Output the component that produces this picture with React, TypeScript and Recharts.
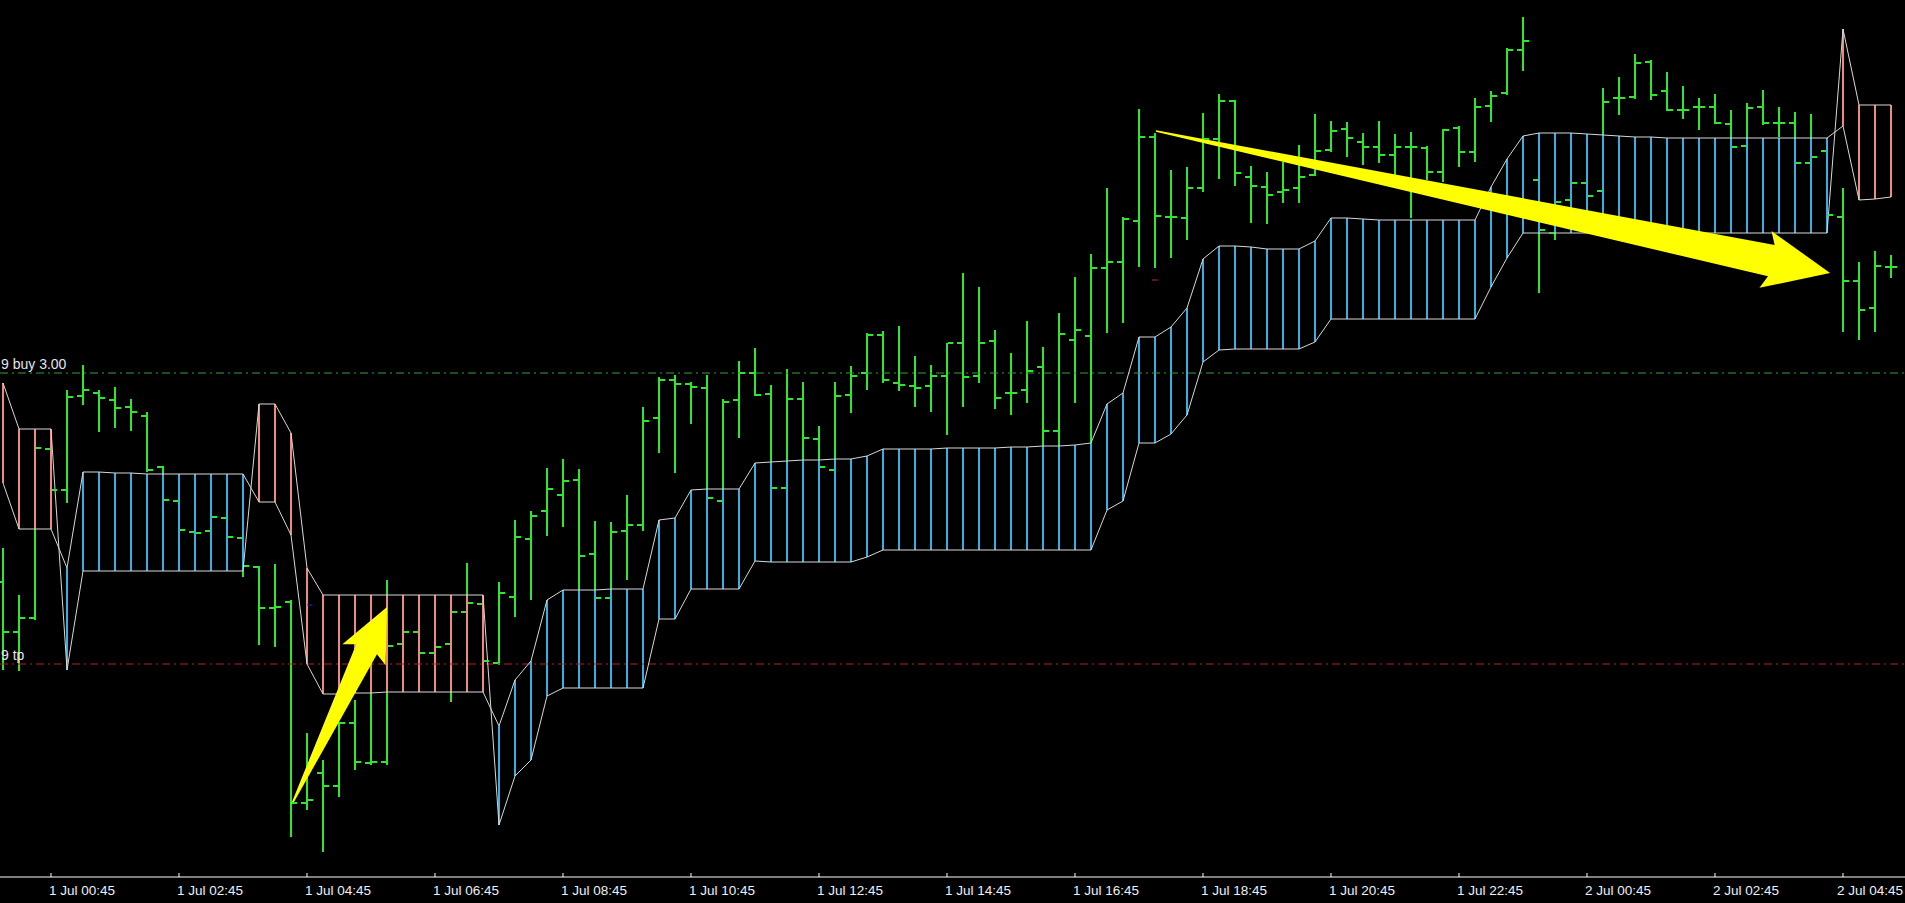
import React from "react";
import {
  ComposedChart,
  Bar,
  Line,
  Scatter,
  XAxis,
  YAxis,
  ReferenceLine,
} from "recharts";

const W = 1905;
const H = 903;

const GREEN = "#2fe62f";
const BLUE = "#3aaee0";
const SALMON = "#ec8a7e";
const SPAN = "#d8d8d8";

// 15 minute bars, 1 Jul 00:00 .. 2 Jul 05:30
const tickBars = [3, 11, 19, 27, 35, 43, 51, 59, 67, 75, 83, 91, 99, 107, 115];
const tickLabels = [
  "1 Jul 00:45", "1 Jul 02:45", "1 Jul 04:45", "1 Jul 06:45", "1 Jul 08:45",
  "1 Jul 10:45", "1 Jul 12:45", "1 Jul 14:45", "1 Jul 16:45", "1 Jul 18:45",
  "1 Jul 20:45", "1 Jul 22:45", "2 Jul 00:45", "2 Jul 02:45", "2 Jul 04:45",
];

const opens = [
  418, 368, 382, 551, 510, 604, 607, 600, 593, 584,
  533, 499, 468, 469, 482, 462, 433, 392, 398, 197,
  227, 214, 277, 237, 238, 356, 368, 347, 356, 388,
  396, 337, 403, 461, 489, 505, 520, 446, 402, 469,
  475, 582, 620, 616, 612, 499, 600, 627, 606, 512,
  601, 561, 530, 605, 627, 665, 617, 614, 614, 624,
  657, 624, 659, 607, 610, 633, 569, 660, 664, 732,
  738, 779, 863, 783, 782, 812, 861, 899, 823, 813,
  808, 812, 825, 850, 871, 858, 853, 845, 853, 852,
  828, 872, 848, 894, 907, 950, 820, 767, 800, 817,
  809, 902, 903, 938, 909, 890, 893, 893, 876, 854,
  893, 877, 877, 837, 849, 783, 719, 692, 733,
];
const highs = [
  452, 405, 554, 554, 610, 635, 610, 613, 601, 588,
  534, 501, 472, 486, 485, 465, 434, 436, 400, 267,
  240, 278, 300, 307, 420, 372, 375, 360, 392, 437,
  400, 418, 480, 489, 532, 541, 531, 479, 478, 505,
  593, 623, 625, 618, 625, 601, 639, 652, 615, 631,
  618, 574, 618, 634, 667, 669, 674, 644, 635, 657,
  727, 713, 670, 647, 679, 653, 687, 723, 746, 812,
  783, 891, 867, 830, 833, 887, 906, 900, 834, 828,
  838, 855, 886, 879, 878, 867, 879, 866, 868, 854,
  871, 874, 902, 909, 952, 983, 830, 803, 825, 830,
  912, 923, 946, 940, 928, 914, 902, 906, 890, 897,
  910, 893, 888, 886, 855, 812, 738, 749, 745,
];
const lows = [
  330, 329, 380, 508, 497, 595, 568, 572, 569, 528,
  497, 467, 460, 465, 460, 423, 355, 353, 163, 190,
  148, 203, 230, 235, 235, 350, 342, 340, 298, 380,
  336, 335, 383, 400, 464, 473, 408, 398, 398, 420,
  469, 547, 527, 576, 500, 497, 562, 604, 510, 510,
  538, 530, 528, 587, 610, 617, 609, 593, 588, 565,
  593, 617, 591, 585, 597, 553, 553, 597, 557, 667,
  677, 733, 732, 742, 760, 808, 821, 814, 777, 776,
  797, 797, 824, 848, 843, 835, 837, 825, 782, 820,
  818, 833, 838, 878, 905, 929, 707, 760, 785, 800,
  805, 885, 901, 900, 889, 881, 870, 876, 850, 850,
  875, 863, 835, 835, 782, 668, 660, 668, 722,
];
const closes = [
  368, 382, 552, 510, 603, 610, 602, 592, 588, 530,
  500, 470, 467, 483, 463, 434, 392, 393, 197, 200,
  214, 277, 238, 238, 354, 368, 347, 353, 388, 397,
  339, 407, 463, 484, 511, 519, 444, 402, 468, 475,
  579, 620, 616, 613, 502, 598, 627, 605, 512, 601,
  562, 533, 604, 624, 665, 620, 615, 612, 624, 657,
  623, 657, 602, 607, 629, 569, 666, 670, 732, 738,
  781, 863, 784, 783, 812, 861, 899, 827, 814, 805,
  810, 823, 849, 869, 862, 853, 845, 853, 853, 828,
  870, 848, 893, 904, 950, 959, 770, 798, 817, 804,
  898, 902, 937, 905, 890, 890, 893, 877, 853, 892,
  877, 877, 837, 843, 785, 719, 690, 734, 733,
];

// cloud: blue where spanA is above spanB, salmon otherwise
const spanA = [
  517, 471, 471, 471, 432, 528, 528, 527, 527, 526,
  526, 526, 526, 526, 526, 526, 498, 498, 465, 336,
  306, 306, 307, 307, 308, 308, 308, 308, 308, 308,
  308, 274, 320, 339, 400, 410, 410, 410, 411, 411,
  411, 480, 482, 510, 511, 511, 511, 537, 538, 539,
  540, 540, 541, 541, 544, 551, 551, 551, 551, 552,
  552, 552, 552, 553, 553, 554, 554, 555, 557, 596,
  607, 663, 663, 673, 692, 741, 754, 754, 753, 751,
  751, 751, 759, 782, 782, 781, 780, 780, 780, 780,
  780, 780, 780, 813, 841, 864, 867, 867, 867, 866,
  865, 864, 863, 863, 862, 862, 862, 862, 862, 862,
  862, 862, 862, 862, 862, 874, 800, 801, 803,
];
const spanB = [
  617, 571, 571, 571, 330, 429, 429, 429, 429, 429,
  429, 429, 429, 429, 429, 429, 596, 596, 567, 432,
  405, 405, 405, 405, 405, 405, 405, 405, 405, 405,
  405, 175, 224, 240, 304, 312, 312, 312, 312, 312,
  312, 381, 381, 411, 411, 411, 411, 439, 438, 438,
  438, 438, 438, 438, 443, 450, 450, 450, 450, 450,
  450, 450, 450, 450, 450, 450, 450, 450, 450, 490,
  499, 557, 557, 566, 585, 638, 650, 651, 651, 651,
  651, 651, 658, 681, 681, 681, 681, 681, 681, 681,
  681, 681, 681, 713, 742, 767, 767, 767, 767, 767,
  767, 767, 767, 767, 767, 767, 767, 767, 767, 767,
  767, 767, 767, 767, 767, 971, 895, 895, 895,
];

const buyPrice = 627;
const tpPrice = 336;

const arrows = [
  { from: { x: 18.06, y: 196 }, to: { x: 24.0, y: 393 }, head: 53, half: 24, neck: 47, neckHalf: 11.5 },
  { from: { x: 72.06, y: 869 }, to: { x: 114.19, y: 727 }, head: 66, half: 29, neck: 60, neckHalf: 16 },
];

const data = opens.map((o, i) => ({
  i,
  open: o,
  close: closes[i],
  range: [lows[i], highs[i]],
  spanA: spanA[i],
  spanB: spanB[i],
  cloud: [Math.min(spanA[i], spanB[i]), Math.max(spanA[i], spanB[i])],
}));

const X_DOMAIN: [number, number] = [-0.1875, 118.875];

const RangeShape = (p: any) => {
  const cx = Math.round(p.x + p.width / 2);
  const top = Math.min(p.y, p.y + p.height);
  const h = Math.max(Math.abs(p.height), 1);
  return <rect x={cx - 1} y={top} width={2} height={h} fill={GREEN} />;
};

const CloudShape = (p: any) => {
  const cx = Math.round(p.x + p.width / 2);
  const top = Math.min(p.y, p.y + p.height);
  const h = Math.max(Math.abs(p.height), 1);
  const up = p.payload.spanA >= p.payload.spanB;
  return <rect x={cx - 1} y={top} width={2} height={h} fill={up ? BLUE : SALMON} />;
};

const OpenTick = (p: any) => (
  <rect x={Math.round(p.cx) - 6} y={Math.round(p.cy) - 1} width={5} height={2} fill={GREEN} />
);
const CloseTick = (p: any) => (
  <rect x={Math.round(p.cx) + 1} y={Math.round(p.cy) - 1} width={5} height={2} fill={GREEN} />
);

const TimeTick = (p: any) => {
  const idx = tickBars.indexOf(p.payload.value);
  // the last label would run past the right edge, so it is right-aligned there
  const last = p.x + 80 > W;
  return (
    <g>
      <line x1={p.x} x2={p.x} y1={p.y - 4} y2={p.y} stroke="#ffffff" />
      <text
        x={last ? W - 2 : p.x - 2}
        y={p.y + 18}
        textAnchor={last ? "end" : "start"}
        fill="#f0f0f0"
        fontSize={13.5}
        fontFamily="Liberation Sans, Arial, sans-serif"
      >
        {tickLabels[idx]}
      </text>
    </g>
  );
};

function arrowShape(a: (typeof arrows)[number]) {
  return (p: any) => {
    const { x1, y1, x2, y2 } = p;
    const dx = x2 - x1;
    const dy = y2 - y1;
    const len = Math.hypot(dx, dy) || 1;
    const ux = dx / len;
    const uy = dy / len;
    const nx = -uy;
    const ny = ux;
    const pt = (back: number, side: number) =>
      `${x2 - ux * back + nx * side},${y2 - uy * back + ny * side}`;
    const pts = [
      `${x1 + nx * 0.8},${y1 + ny * 0.8}`,
      pt(a.neck, a.neckHalf),
      pt(a.head, a.half),
      `${x2},${y2}`,
      pt(a.head, -a.half),
      pt(a.neck, -a.neckHalf),
      `${x1 - nx * 0.8},${y1 - ny * 0.8}`,
    ].join(" ");
    return <polygon points={pts} fill="#ffff00" />;
  };
}

const lineLabel = (text: string) => (p: any) => (
  <text
    x={1}
    y={p.viewBox.y - 4}
    fill="#e6e6e6"
    fontSize={14}
    fontFamily="Liberation Sans, Arial, sans-serif"
  >
    {text}
  </text>
);

export default function App() {
  return (
    <div
      style={{
        position: "fixed",
        left: 0,
        top: 0,
        width: W,
        height: H,
        background: "#000000",
      }}
    >
      <ComposedChart
        width={W}
        height={H}
        data={data}
        margin={{ top: 0, right: 0, bottom: 0, left: 0 }}
      >
        <XAxis
          dataKey="i"
          type="number"
          domain={X_DOMAIN}
          allowDataOverflow
          ticks={tickBars}
          interval={0}
          height={26}
          tickSize={0}
          tickMargin={0}
          tickLine={false}
          axisLine={{ stroke: "#ffffff", strokeWidth: 1 }}
          tick={<TimeTick />}
        />
        <XAxis xAxisId="cloud" dataKey="i" type="number" domain={X_DOMAIN} allowDataOverflow hide />
        <YAxis hide domain={[123, 1000]} allowDataOverflow />

        <ReferenceLine
          y={buyPrice}
          stroke="#3c9a3c"
          strokeDasharray="8 4 2 4"
          label={lineLabel("9 buy 3.00")}
        />
        <ReferenceLine
          y={tpPrice}
          stroke="#b42222"
          strokeDasharray="8 4 2 4"
          label={lineLabel("9 tp")}
        />

        <Bar dataKey="range" barSize={2} shape={RangeShape} isAnimationActive={false} />
        <Scatter dataKey="open" shape={OpenTick} isAnimationActive={false} />
        <Scatter dataKey="close" shape={CloseTick} isAnimationActive={false} />

        <Bar xAxisId="cloud" dataKey="cloud" barSize={2} shape={CloudShape} isAnimationActive={false} />
        <Line
          dataKey="spanA"
          type="linear"
          stroke={SPAN}
          strokeWidth={1}
          dot={false}
          activeDot={false}
          isAnimationActive={false}
        />
        <Line
          dataKey="spanB"
          type="linear"
          stroke={SPAN}
          strokeWidth={1}
          dot={false}
          activeDot={false}
          isAnimationActive={false}
        />

        <ReferenceLine
          segment={[{ x: 19.0, y: 395 }, { x: 19.35, y: 395 }]}
          stroke="#2a2ad0"
          strokeWidth={1}
        />
        <ReferenceLine
          segment={[{ x: 71.8, y: 720 }, { x: 72.2, y: 720 }]}
          stroke="#c02a2a"
          strokeWidth={1}
        />

        {arrows.map((a, k) => (
          <ReferenceLine
            key={k}
            segment={[a.from, a.to]}
            ifOverflow="visible"
            shape={arrowShape(a)}
          />
        ))}
      </ComposedChart>
    </div>
  );
}
